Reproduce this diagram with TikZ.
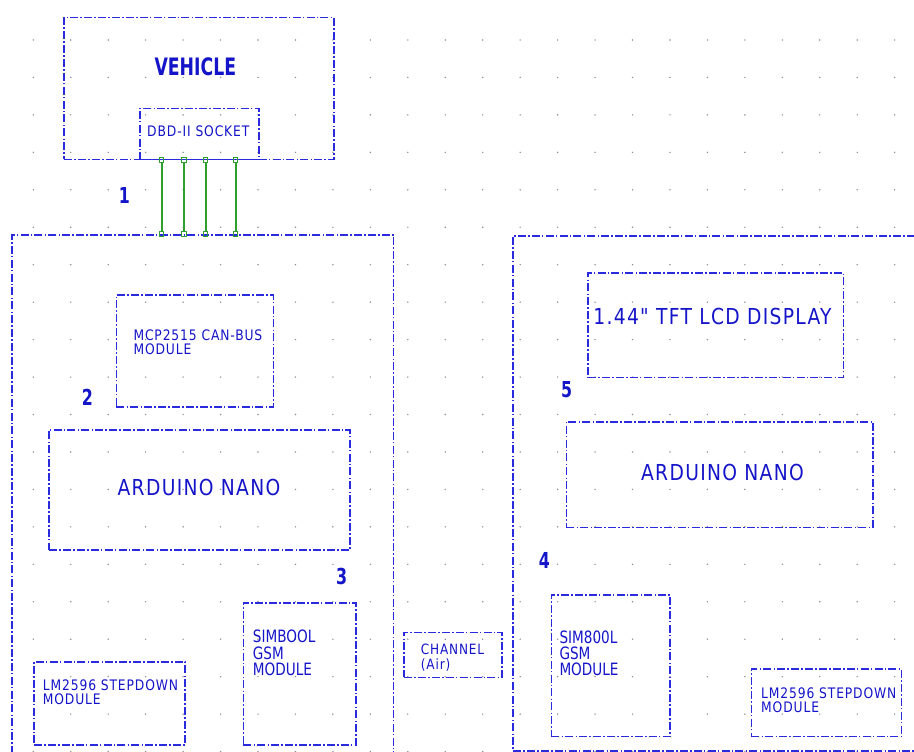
\documentclass[tikz,border=0pt]{standalone}
\usepackage{fontspec}
\usepackage{xcolor}
\usepackage{tikz}
\newfontfamily\dgmfont[FakeStretch=0.85,LetterSpace=6]{DejaVu Sans}
\newfontfamily\dgmnarrow[FakeStretch=0.8]{DejaVu Sans}
\newfontfamily\dgmbold[FakeStretch=0.72]{DejaVu Sans}
\definecolor{dgmblue}{HTML}{2B2BDE}
\definecolor{dgmtext}{HTML}{1414C8}
\definecolor{dgmgreen}{HTML}{2FA02F}
\definecolor{dgmgray}{HTML}{8E8E8E}

\tikzset{
  sheetbox/.style={draw=dgmblue,line width=1.5pt,dash pattern=on 8pt off 2.2pt on 1.5pt off 2.2pt,inner sep=0pt,anchor=north west},
  blocktext/.style={text=dgmtext,inner sep=0pt,anchor=north west,align=left},
  stepnum/.style={text=dgmtext,inner sep=0pt,font=\dgmbold\bfseries\fontsize{22}{22}\selectfont},
  padsq/.style={draw=dgmgreen,line width=1pt,minimum size=4.5pt,inner sep=0pt},
  wire/.style={draw=dgmgreen,line width=1.6pt}
}

\begin{document}
\begin{tikzpicture}[x=1pt,y=-1pt]
  \useasboundingbox (0,0) rectangle (914,752);
  \clip (0,0) rectangle (914,752);
  \foreach \i in {0,...,23}
    \foreach \j in {0,...,19}
      \fill[dgmgray] ({33.3+37.45*\i},{40+37.45*\j}) circle[radius=0.8];

  \node[sheetbox,minimum width=269.7pt,minimum height=142pt] (vehicle) at (63.3,16.7) {};
  \node[sheetbox,minimum width=119.3pt,minimum height=51pt] (obd) at (139,107.7) {};
  \node[sheetbox,minimum width=381.7pt,minimum height=560pt] (unitA) at (11,234) {};
  \node[sheetbox,minimum width=430pt,minimum height=515pt] (unitB) at (512.3,235) {};
  \node[sheetbox,minimum width=157pt,minimum height=111.7pt] (mcp) at (115.7,294.3) {};
  \node[sheetbox,minimum width=300.7pt,minimum height=120pt] (nanoA) at (48.3,429.3) {};
  \node[sheetbox,minimum width=112.6pt,minimum height=142pt] (gsmA) at (242.7,602) {};
  \node[sheetbox,minimum width=151pt,minimum height=83pt] (buckA) at (33.3,661) {};
  \node[sheetbox,minimum width=97.7pt,minimum height=45pt] (air) at (403.3,631.7) {};
  \node[sheetbox,minimum width=255.4pt,minimum height=104.4pt] (tft) at (587.3,272.3) {};
  \node[sheetbox,minimum width=306.6pt,minimum height=105.7pt] (nanoB) at (565.7,421) {};
  \node[sheetbox,minimum width=118.6pt,minimum height=141.7pt] (gsmB) at (550.7,594) {};
  \node[sheetbox,minimum width=150pt,minimum height=67.4pt] (buckB) at (750.7,668.3) {};

  \foreach \k/\x in {1/161.7,2/183.8,3/205.7,4/235.7} {
    \coordinate (w\k) at (\x,0);
    \node[padsq] (s\k) at (obd.south -| w\k) {};
    \node[padsq] (t\k) at (unitA.north -| w\k) {};
    \draw[wire] (s\k) -- (t\k);
  }

  \node[blocktext,anchor=center,font=\dgmbold\bfseries\fontsize{24}{24}\selectfont] (vehicletxt) at (195.3,67.2) {VEHICLE};
  \node[blocktext,anchor=center,font=\dgmfont\fontsize{14.5}{14}\selectfont] (obdtxt) at (198.3,130.8) {DBD-II SOCKET};
  \node[blocktext,font=\dgmfont\fontsize{14.5}{14}\selectfont] (mcptxt) at (133.3,329.5) {MCP2515 CAN-BUS\\MODULE};
  \node[blocktext,anchor=center,font=\dgmfont\fontsize{22}{22}\selectfont] (nanoAtxt) at (199,487.3) {ARDUINO NANO};
  \node[blocktext,font=\dgmnarrow\fontsize{17}{16.3}\selectfont] (gsmAtxt) at (252.7,630) {SIMBOOL\\GSM\\MODULE};
  \node[blocktext,font=\dgmfont\fontsize{14.5}{14}\selectfont] (buckAtxt) at (42.7,680) {LM2596 STEPDOWN\\MODULE};
  \node[blocktext,font=\dgmfont\fontsize{14.2}{15}\selectfont] (airtxt) at (420.7,643.3) {CHANNEL\\(Air)};
  \node[blocktext,anchor=center,font=\dgmfont\fontsize{22}{22}\selectfont] (tfttxt) at (712.5,316.7) {1.44" TFT LCD DISPLAY};
  \node[blocktext,anchor=center,font=\dgmfont\fontsize{22}{22}\selectfont] (nanoBtxt) at (722.5,472.3) {ARDUINO NANO};
  \node[blocktext,font=\dgmnarrow\fontsize{17}{16.3}\selectfont] (gsmBtxt) at (559.3,630.5) {SIM800L\\GSM\\MODULE};
  \node[blocktext,font=\dgmfont\fontsize{14.5}{14.6}\selectfont] (buckBtxt) at (761,687.3) {LM2596 STEPDOWN\\MODULE};

  \node[stepnum] (n1) at (124.5,195.3) {1};
  \node[stepnum] (n2) at (87.3,397.3) {2};
  \node[stepnum] (n3) at (341.7,576.7) {3};
  \node[stepnum] (n4) at (544.5,560.8) {4};
  \node[stepnum] (n5) at (566.7,389.2) {5};
\end{tikzpicture}
\end{document}
